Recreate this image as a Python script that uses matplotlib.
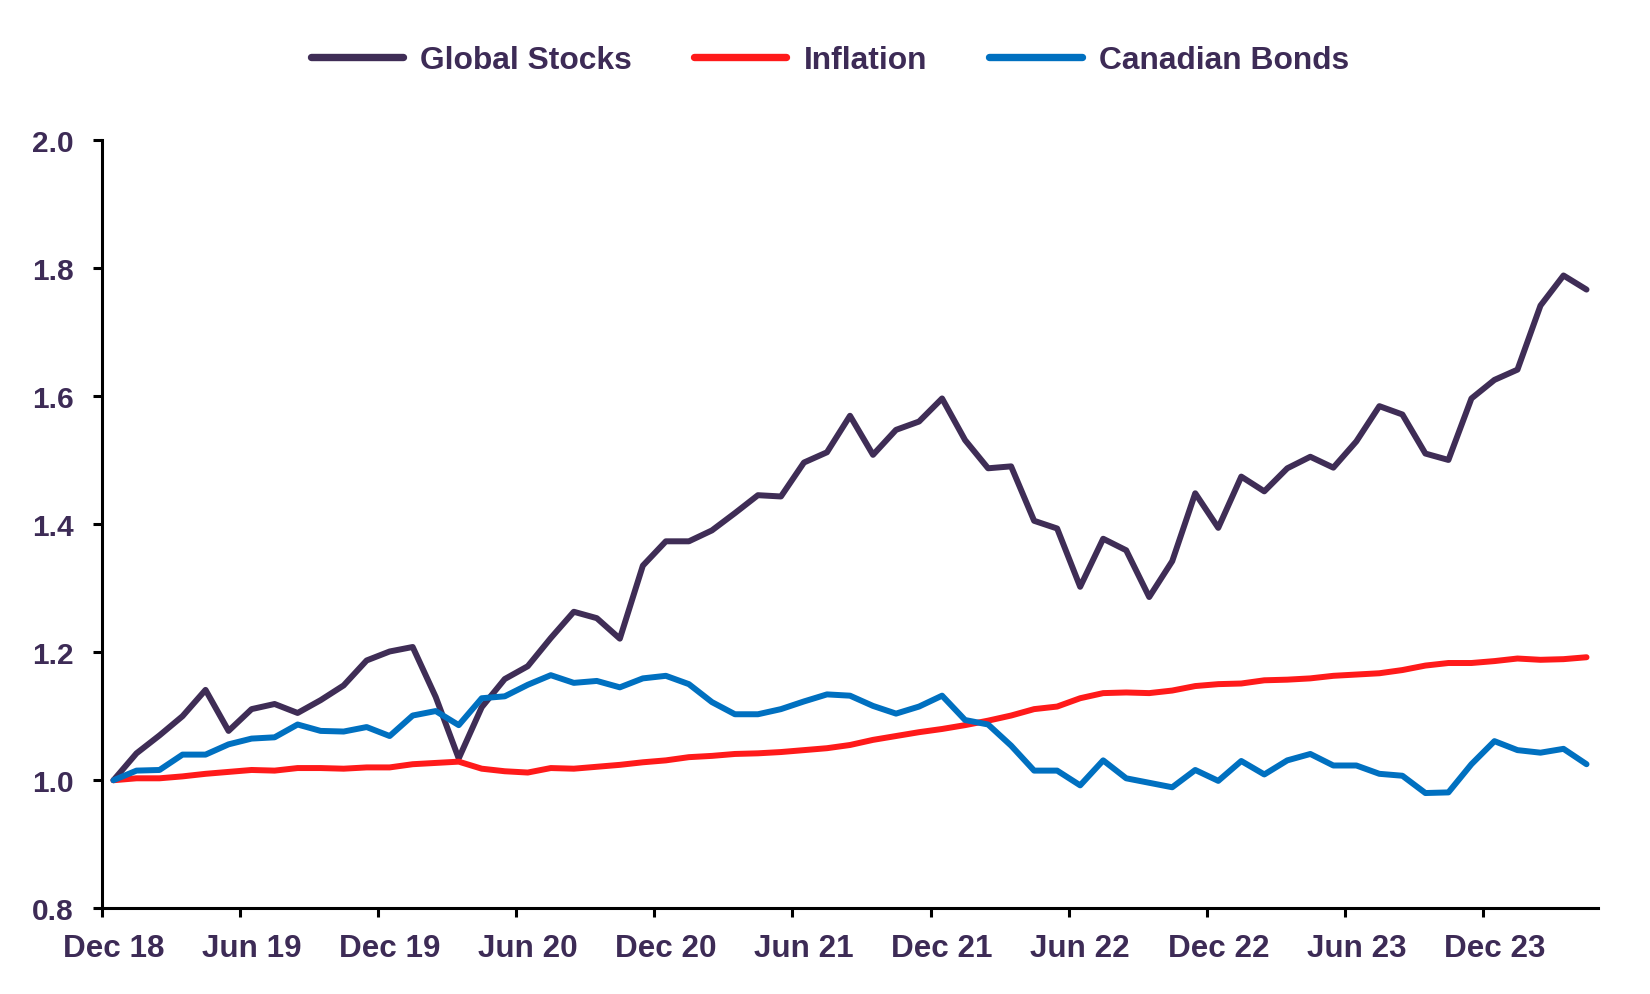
import numpy as np
import matplotlib
matplotlib.use('Agg')
import matplotlib.pyplot as plt

# fonts: Arial-like bold everywhere
plt.rcParams['font.family'] = ['Liberation Sans', 'DejaVu Sans']
plt.rcParams['font.weight'] = 'bold'

# monthly growth of $1, Dec 18 .. Apr 24
stocks = [1.000, 1.042, 1.070, 1.100, 1.141, 1.077, 1.111, 1.119, 1.105, 1.125,
          1.148, 1.187, 1.201, 1.208, 1.130, 1.034, 1.114, 1.158, 1.178, 1.222,
          1.263, 1.253, 1.221, 1.335, 1.373, 1.373, 1.390, 1.417, 1.445, 1.443,
          1.496, 1.512, 1.569, 1.508, 1.547, 1.560, 1.596, 1.531, 1.487, 1.490,
          1.405, 1.393, 1.302, 1.377, 1.359, 1.286, 1.342, 1.448, 1.394, 1.474,
          1.451, 1.487, 1.505, 1.488, 1.529, 1.584, 1.571, 1.510, 1.500, 1.596,
          1.625, 1.641, 1.741, 1.788, 1.766]
inflation = [1.000, 1.003, 1.003, 1.006, 1.010, 1.013, 1.016, 1.015, 1.019, 1.019,
             1.018, 1.020, 1.020, 1.025, 1.027, 1.029, 1.018, 1.014, 1.012, 1.019,
             1.018, 1.021, 1.024, 1.028, 1.031, 1.036, 1.038, 1.041, 1.042, 1.044,
             1.047, 1.050, 1.055, 1.063, 1.069, 1.075, 1.080, 1.086, 1.093, 1.101,
             1.111, 1.115, 1.128, 1.136, 1.137, 1.136, 1.140, 1.147, 1.150, 1.151,
             1.156, 1.157, 1.159, 1.163, 1.165, 1.167, 1.172, 1.179, 1.183, 1.183,
             1.186, 1.190, 1.188, 1.189, 1.192]
bonds = [1.000, 1.015, 1.016, 1.040, 1.040, 1.056, 1.065, 1.067, 1.087, 1.077,
         1.076, 1.083, 1.069, 1.101, 1.108, 1.086, 1.128, 1.131, 1.149, 1.164,
         1.152, 1.155, 1.145, 1.159, 1.163, 1.150, 1.122, 1.103, 1.103, 1.111,
         1.123, 1.134, 1.132, 1.116, 1.104, 1.115, 1.132, 1.094, 1.087, 1.054,
         1.015, 1.015, 0.992, 1.031, 1.003, 0.996, 0.989, 1.016, 0.999, 1.030,
         1.009, 1.031, 1.041, 1.023, 1.023, 1.010, 1.007, 0.980, 0.981, 1.025,
         1.061, 1.047, 1.043, 1.049, 1.025]

tick_labels = ['Dec 18', 'Jun 19', 'Dec 19', 'Jun 20', 'Dec 20', 'Jun 21',
               'Dec 21', 'Jun 22', 'Dec 22', 'Jun 23', 'Dec 23']
y_ticks = [0.8, 1.0, 1.2, 1.4, 1.6, 1.8, 2.0]

text_col = '#3D2B56'
x = np.arange(len(stocks))

fig = plt.figure(figsize=(16.5, 9.95), dpi=100)
ax = fig.add_axes([0.0618, 0.0861, 0.9067, 0.7725])

style = dict(lw=4.3, solid_joinstyle='round', solid_capstyle='round')
ax.plot(x, stocks, color='#3F2D56', label='Global Stocks', **style)
ax.plot(x, inflation, color='#FF1A1A', label='Inflation', **style)
ax.plot(x, bonds, color='#0070C0', label='Canadian Bonds', **style)

ax.set_xlim(-0.5, len(stocks) - 0.5)
ax.set_ylim(0.8, 2.0)

# category axis: tick marks between months, labels on the months
ax.set_xticks(np.arange(len(tick_labels)) * 6 - 0.5)
ax.set_xticklabels([])
ax.set_xticks(np.arange(len(tick_labels)) * 6, minor=True)
ax.set_xticklabels(tick_labels, minor=True)
ax.tick_params(axis='x', which='major', length=6.5, width=2.2, direction='out')
ax.tick_params(axis='x', which='minor', length=0, pad=18, labelsize=22.6,
               labelcolor=text_col)

ax.set_yticks(y_ticks)
ax.set_yticklabels([f'{v:.1f}' for v in y_ticks])
ax.tick_params(axis='y', length=6.5, width=2.2, direction='out', pad=14,
               labelsize=21.5, labelcolor=text_col)

for s in ['top', 'right']:
    ax.spines[s].set_visible(False)
for s in ['left', 'bottom']:
    ax.spines[s].set_linewidth(2.2)
    ax.spines[s].set_color('black')

leg = fig.legend(loc='center', bbox_to_anchor=(0.503, 0.939), ncol=3,
                 frameon=False, fontsize=22.9, handlelength=2.9,
                 handletextpad=0.55, columnspacing=1.95, borderpad=0)
for t in leg.get_texts():
    t.set_color(text_col)
for h in leg.get_lines():
    h.set_linewidth(5.3)

fig.savefig('out.png', dpi=100)
